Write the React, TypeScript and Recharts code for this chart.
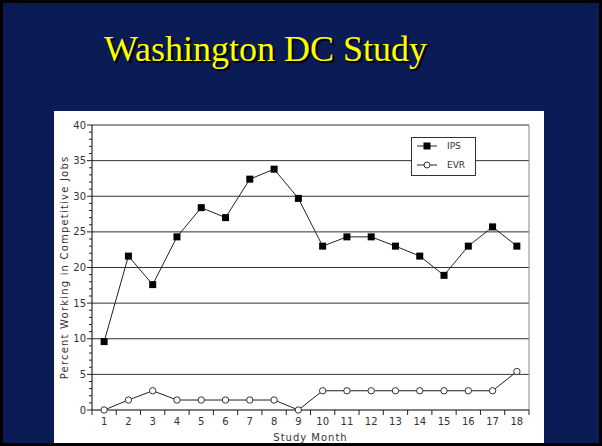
import React from 'react';
import { LineChart, Line, XAxis, YAxis, ReferenceLine, Legend } from 'recharts';

const months = [1, 2, 3, 4, 5, 6, 7, 8, 9, 10, 11, 12, 13, 14, 15, 16, 17, 18];
const ipsValues = [9.6, 21.6, 17.6, 24.3, 28.4, 27.0, 32.4, 33.8, 29.7, 23.0, 24.3, 24.3, 23.0, 21.6, 18.9, 23.0, 25.7, 23.0];
const evrValues = [0, 1.4, 2.7, 1.4, 1.4, 1.4, 1.4, 1.4, 0, 2.7, 2.7, 2.7, 2.7, 2.7, 2.7, 2.7, 2.7, 5.4];
const yTicks = [0, 1, 2, 3, 4, 5, 6, 7, 8, 9, 10, 11, 12, 13, 14, 15, 16, 17, 18, 19, 20, 21, 22, 23, 24, 25, 26, 27, 28, 29, 30, 31, 32, 33, 34, 35, 36, 37, 38, 39, 40];
const yLabelValues = [0, 5, 10, 15, 20, 25, 30, 35, 40];
const gridValues = [5, 10, 15, 20, 25, 30, 35, 40];
const seriesNames = ['IPS', 'EVR'];

const data = months.map((m, i) => ({ month: m, ips: ipsValues[i], evr: evrValues[i] }));
const xTicks = [...months.map((m) => m - 0.5), months[months.length - 1] + 0.5, ...months];

const NAVY = '#0a1b56';
const FONT = '"DejaVu Sans", Verdana, sans-serif';
const TXT = '#333';

const YTick = (props: any) => {
  const { x, y, payload } = props;
  const major = yLabelValues.includes(payload.value);
  return (
    <g>
      <line x1={x - (major ? 5 : 3)} x2={x} y1={y} y2={y} stroke="#222" strokeWidth={1} />
      {major && (
        <text x={x - 6} y={y} textAnchor="end" dominantBaseline="central" fontFamily={FONT} fontSize={10} fill={TXT}>
          {payload.value}
        </text>
      )}
    </g>
  );
};

const XTick = (props: any) => {
  const { x, y, payload } = props;
  const isLabel = Number.isInteger(payload.value);
  if (!isLabel) {
    return <line x1={x} x2={x} y1={y} y2={y + 5} stroke="#222" strokeWidth={1} />;
  }
  return (
    <text x={x} y={y + 14.5} textAnchor="middle" fontFamily={FONT} fontSize={10} fill={TXT}>
      {payload.value}
    </text>
  );
};

const YLabel = (props: any) => {
  const vb = props.viewBox;
  const cx = vb.x + 10;
  const cy = vb.y + vb.height / 2;
  return (
    <text x={cx} y={cy} transform={`rotate(-90 ${cx} ${cy})`} textAnchor="middle" dominantBaseline="central"
      fontFamily={FONT} fontSize={10} letterSpacing={1.2} fill={TXT}>
      Percent Working in Competitive Jobs
    </text>
  );
};

const XLabel = (props: any) => {
  const vb = props.viewBox;
  return (
    <text x={vb.x + vb.width / 2} y={vb.y + vb.height - 2} textAnchor="middle"
      fontFamily={FONT} fontSize={10} letterSpacing={1} fill={TXT}>
      Study Month
    </text>
  );
};

const SquareDot = (props: any) => {
  const { cx, cy, index } = props;
  return <rect key={`s${index}`} x={cx - 3.5} y={cy - 3.5} width={7} height={7} fill="#000" />;
};

const CircleDot = (props: any) => {
  const { cx, cy, index } = props;
  return <circle key={`c${index}`} cx={cx} cy={cy} r={3.2} fill="#fff" stroke="#333" strokeWidth={1} />;
};

const LegendBox = () => (
  <svg width={65} height={39} style={{ display: 'block' }}>
    <rect x={0.5} y={0.5} width={64} height={38} fill="#fff" stroke="#333" strokeWidth={1} />
    <line x1={6} x2={26} y1={9} y2={9} stroke="#222" />
    <rect x={12.5} y={5.5} width={7} height={7} fill="#000" />
    <text x={36} y={9} dominantBaseline="central" fontFamily={FONT} fontSize={9} fill={TXT}>{seriesNames[0]}</text>
    <line x1={6} x2={26} y1={28} y2={28} stroke="#222" />
    <circle cx={16} cy={28} r={3} fill="#fff" stroke="#333" />
    <text x={36} y={28} dominantBaseline="central" fontFamily={FONT} fontSize={9} fill={TXT}>{seriesNames[1]}</text>
  </svg>
);

export default function App() {
  return (
    <div style={{ position: 'absolute', left: 0, top: 0, width: 602, height: 446, background: '#000', overflow: 'hidden' }}>
      <div style={{ position: 'absolute', left: 3, top: 3, width: 596, height: 440, background: NAVY }} />
      <div
        style={{
          position: 'absolute', left: 104, top: 31, lineHeight: '36px', fontSize: 36,
          fontFamily: '"Liberation Serif", "Times New Roman", serif', color: '#ffff00',
          textShadow: '2px 2px 1px #000', whiteSpace: 'nowrap',
        }}
      >
        Washington DC Study
      </div>
      <div style={{ position: 'absolute', left: 54, top: 111, width: 490, height: 332, background: '#fff' }}>
        <LineChart width={490} height={332} data={data} margin={{ top: 14, right: 15, left: 0, bottom: 0 }}>
          <XAxis
            dataKey="month" type="number" domain={[0.5, 18.5]} ticks={xTicks} interval={0}
            tickSize={0} tickMargin={0} tickLine={false} axisLine={{ stroke: '#000' }}
            tick={<XTick />} height={33} allowDataOverflow label={<XLabel />}
          />
          <YAxis
            type="number" domain={[0, 40]} ticks={yTicks} interval={0} width={38}
            tickSize={0} tickMargin={0} tickLine={false} axisLine={{ stroke: '#000' }}
            tick={<YTick />} label={<YLabel />}
          />
          {gridValues.map((v) => (
            <ReferenceLine key={v} y={v} stroke="#333" strokeWidth={1} ifOverflow="extendDomain" />
          ))}
          <ReferenceLine x={18.5} stroke="#888" strokeWidth={1} />
          <Line dataKey="ips" name={seriesNames[0]} stroke="#222" strokeWidth={1} dot={<SquareDot />} isAnimationActive={false} />
          <Line dataKey="evr" name={seriesNames[1]} stroke="#222" strokeWidth={1} dot={<CircleDot />} isAnimationActive={false} />
          <Legend
            layout="horizontal" verticalAlign="middle" align="center"
            wrapperStyle={{ left: 357, top: 26, width: 65, height: 39 }}
            content={<LegendBox />}
          />
        </LineChart>
      </div>
    </div>
  );
}
